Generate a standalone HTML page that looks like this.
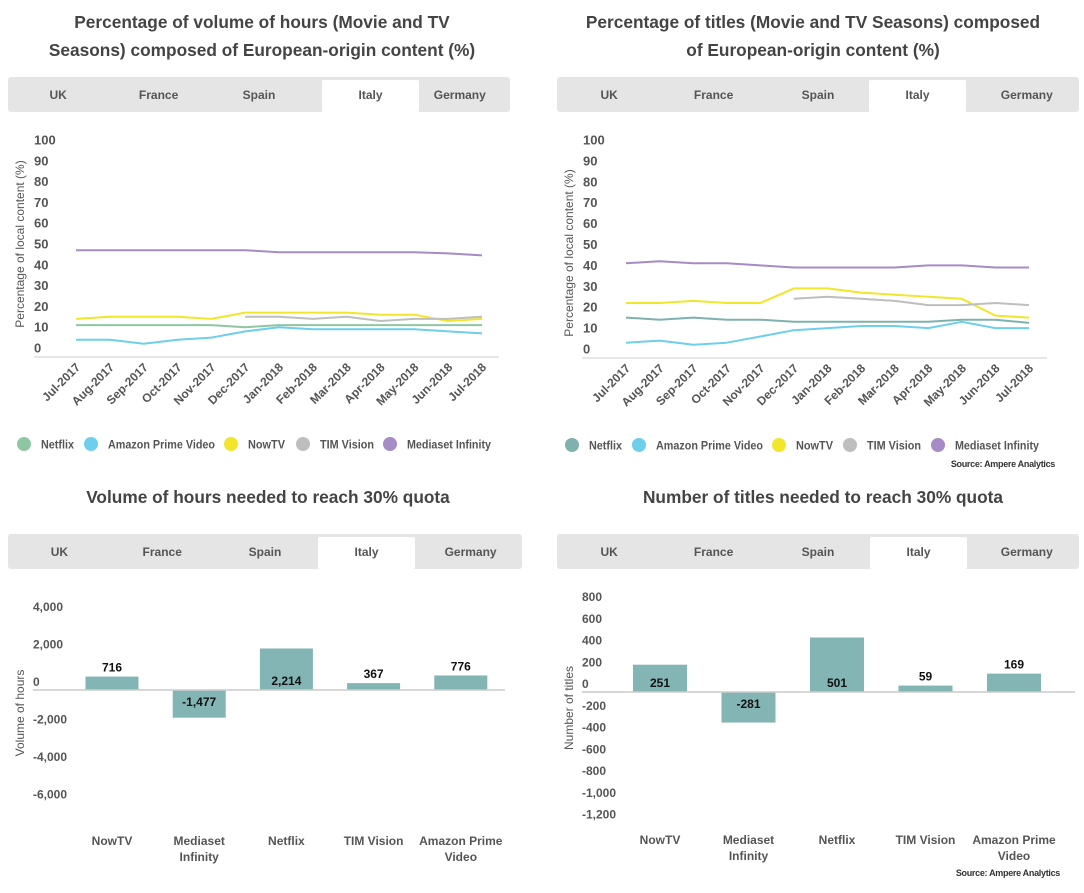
<!DOCTYPE html>
<html><head><meta charset="utf-8">
<style>
body{margin:0;background:#fff;width:1084px;height:888px;overflow:hidden;font-family:"Liberation Sans",sans-serif;}
svg text{font-family:"Liberation Sans",sans-serif;}
</style></head>
<body>
<svg id="root" width="1084" height="888" viewBox="0 0 1084 888" xmlns="http://www.w3.org/2000/svg"></svg>
<script>
const months = ["Jul-2017","Aug-2017","Sep-2017","Oct-2017","Nov-2017","Dec-2017","Jan-2018","Feb-2018","Mar-2018","Apr-2018","May-2018","Jun-2018","Jul-2018"];
const seriesNames = ["Netflix","Amazon Prime Video","NowTV","TIM Vision","Mediaset Infinity"];
const yTicksPct = [0,10,20,30,40,50,60,70,80,90,100];
// Chart 1: volume of hours %
const hoursNetflix  = [11,11,11,11,11,10,11,11,11,11,11,11,11];
const hoursAmazon   = [4,4,2,4,5,8,10,9,9,9,9,8,7];
const hoursNowTV    = [14,15,15,15,14,17,17,17,17,16,16,13,14];
const hoursTIM      = [null,null,null,null,null,15,15,14,15,13,14,14,15];
const hoursMediaset = [47,47,47,47,47,47,46,46,46,46,46,45.5,44.5];
// Chart 2: titles %
const titlesNetflix  = [15,14,15,14,14,13,13,13,13,13,14,14,12.5];
const titlesAmazon   = [3,4,2,3,6,9,10,11,11,10,13,10,10];
const titlesNowTV    = [22,22,23,22,22,29,29,27,26,25,24,16,15];
const titlesTIM      = [null,null,null,null,null,24,25,24,23,21,21,22,21];
const titlesMediaset = [41,42,41,41,40,39,39,39,39,40,40,39,39];
// Chart 3/4: bars
const barCats = ["NowTV","Mediaset Infinity","Netflix","TIM Vision","Amazon Prime Video"];
const hoursNeeded = [716,-1477,2214,367,776];
const hoursTicks = [4000,2000,0,-2000,-4000,-6000];
const titlesNeeded = [251,-281,501,59,169];
const titlesTicks = [800,600,400,200,0,-200,-400,-600,-800,-1000,-1200];
const tabs = ["UK","France","Spain","Italy","Germany"];
const legendWidths = [33,107,37,54,84];

const NS="http://www.w3.org/2000/svg";
const root=document.getElementById('root');
function mk(tag,attrs,parent,text){const e=document.createElementNS(NS,tag);for(const k in attrs)e.setAttribute(k,attrs[k]);if(text!==undefined)e.textContent=text;(parent||root).appendChild(e);return e;}
function fmt(v){const s=Math.abs(v).toLocaleString('en-US');return (v<0?'-':'')+s;}

function title(lines,cx,ys,name){
  const g=mk('g',{});
  
  
  lines.forEach((l,i)=>mk('text',{x:cx,y:ys[i],'text-anchor':'middle','font-size':17.3,'font-weight':'bold',fill:'#444'},g,l));
}
function tabBar(x0,x1,y,activeX,name){
  const g=mk('g',{});
  
  
  mk('rect',{x:x0,y:y,width:x1-x0,height:35,fill:'#e5e5e5',rx:3},g);
  const w=(x1-x0)/5;
  tabs.forEach((t,i)=>{
    const cx=x0+w*(i+0.5);
    const tg=mk('g',{},g);
    
    
    if(i===3) mk('rect',{x:activeX,y:y+3,width:97,height:32,fill:'#fff',rx:2},tg);
    mk('text',{x:i===3?activeX+48.5:cx,y:y+22,'text-anchor':'middle','font-size':12,'font-weight':'bold',fill:'#555'},tg,t);
  });
}
function lineChart(o){
  const g=mk('g',{});
  
  
  const yS=v=>o.y0-(v/100)*(o.y0-o.y100);
  const xS=i=>o.xFirst+i*(o.xLast-o.xFirst)/(months.length-1);
  yTicksPct.forEach(t=>{
    const e=mk('text',{x:o.tickX,y:yS(t)+4.5,'font-size':13,'font-weight':'bold',fill:'#555'},g,t);
    
    
  });
  const yt=mk('text',{transform:`translate(${o.titleX},${o.titleY}) rotate(-90)`,'text-anchor':'middle','font-size':12,fill:'#555'},g,'Percentage of local content (%)');
  
  
  const ax=mk('line',{x1:o.axX0,x2:o.axX1,y1:o.axY,y2:o.axY,stroke:'#ccc','stroke-width':1},g);
  
  
  months.forEach((m,i)=>{
    const e=mk('text',{transform:`translate(${xS(i)+5},${o.axY+11}) rotate(-45)`,'text-anchor':'end','font-size':12,'font-weight':'bold',fill:'#555'},g,m);
    
    
  });
  o.series.forEach((s,si)=>{
    let d='';let started=false;
    s.forEach((v,i)=>{if(v===null){started=false;return;}d+=(started?'L':'M')+xS(i).toFixed(1)+' '+yS(v).toFixed(1)+' ';started=true;});
    const p=mk('path',{d:d,fill:'none',stroke:o.colors[si],'stroke-width':2,'stroke-linejoin':'round'},g);
    
    
  });
  const lg=mk('g',{},g);
  
  
  o.legendX.forEach((lx,i)=>{
    const le=mk('g',{},lg);
    
    
    mk('circle',{cx:lx,cy:o.legY,r:7,fill:o.colors[i]},le);
    mk('text',{x:lx+17,y:o.legY+4.5,'font-size':12,'font-weight':'bold',fill:'#555',textLength:legendWidths[i],lengthAdjust:'spacingAndGlyphs'},le,seriesNames[i]);
  });
}
function barChart(o){
  const g=mk('g',{});
  
  
  const yS=v=>o.zeroY-v*o.scale;
  o.ticks.forEach(t=>{
    const e=mk('text',{x:o.tickX,y:yS(t)-4,'font-size':12,'font-weight':'bold',fill:'#555'},g,fmt(t));
    
    
  });
  const yt=mk('text',{transform:`translate(${o.titleX},${o.titleY}) rotate(-90)`,'text-anchor':'middle','font-size':12,fill:'#555'},g,o.yTitle);
  
  
  o.values.forEach((v,i)=>{
    const cx=o.x0+i*o.step;
    const y=yS(Math.max(v,0)),h=Math.abs(v)*o.scale;
    const b=mk('rect',{x:cx-o.bw/2,y:y,width:o.bw,height:h,fill:'#82b5b3'},g);
    
    
    let ly;
    if(v<0) ly=o.zeroY+16;
    else if(h>25) ly=o.zeroY-5;
    else ly=y-5;
    const lt=mk('text',{x:cx,y:ly,'text-anchor':'middle','font-size':12,'font-weight':'bold',fill:'#111'},g,fmt(v));
    
    
    const words=barCats[i]==='Mediaset Infinity'?['Mediaset','Infinity']:barCats[i]==='Amazon Prime Video'?['Amazon Prime','Video']:[barCats[i]];
    words.forEach((w,wi)=>{
      const ct=mk('text',{x:cx,y:o.catY+wi*16,'text-anchor':'middle','font-size':12,'font-weight':'bold',fill:'#555'},g,w);
      
      
    });
  });
  const ax=mk('line',{x1:o.axX0,x2:o.axX1,y1:o.zeroY,y2:o.zeroY,stroke:'#ccc','stroke-width':1.5},g);
  
  
}
function source(x,y){
  const e=mk('text',{x:x,y:y,'text-anchor':'end','font-size':9,'font-weight':'bold',fill:'#333','letter-spacing':'-0.3'},root,'Source: Ampere Analytics');
  
  
}

title(["Percentage of volume of hours (Movie and TV","Seasons) composed of European-origin content (%)"],262,[28,56],'chart-title-hours-pct');
title(["Percentage of titles (Movie and TV Seasons) composed","of European-origin content (%)"],813,[28,56],'chart-title-titles-pct');
title(["Volume of hours needed to reach 30% quota"],268,[503],'chart-title-hours-needed');
title(["Number of titles needed to reach 30% quota"],823,[503],'chart-title-titles-needed');
tabBar(8,510,77,322,'country-tabs-1');
tabBar(557,1079,77,869,'country-tabs-2');
tabBar(8,522,534,318,'country-tabs-3');
tabBar(557,1079,534,870,'country-tabs-4');

lineChart({name:'line-chart-hours',y0:348,y100:140,xFirst:76,xLast:482,tickX:34,titleX:24,titleY:244,axX0:34,axX1:499,axY:357,
  series:[hoursNetflix,hoursAmazon,hoursNowTV,hoursTIM,hoursMediaset],
  colors:['#8fc6a2','#6dcfec','#f1e62b','#bebebe','#a78bc6'],legendX:[24,91,231,303,390],legY:444});
lineChart({name:'line-chart-titles',y0:349,y100:140,xFirst:626,xLast:1029,tickX:583,titleX:573,titleY:253,axX0:582,axX1:1047,axY:358,
  series:[titlesNetflix,titlesAmazon,titlesNowTV,titlesTIM,titlesMediaset],
  colors:['#7fb1ae','#6dcfec','#f1e62b','#bebebe','#a78bc6'],legendX:[572,639,779,850,938],legY:445});
source(1055,467);

barChart({name:'bar-chart-hours',values:hoursNeeded,ticks:hoursTicks,zeroY:690,scale:37.5/2000,tickX:33,x0:112,step:87.2,bw:53,
  axX0:33,axX1:505,catY:845,titleX:24,titleY:713,yTitle:'Volume of hours'});
barChart({name:'bar-chart-titles',values:titlesNeeded,ticks:titlesTicks,zeroY:692,scale:87/800,tickX:582,x0:660,step:88.5,bw:54,
  axX0:582,axX1:1075,catY:844,titleX:573,titleY:708,yTitle:'Number of titles'});
source(1060,876);
</script>
</body></html>
